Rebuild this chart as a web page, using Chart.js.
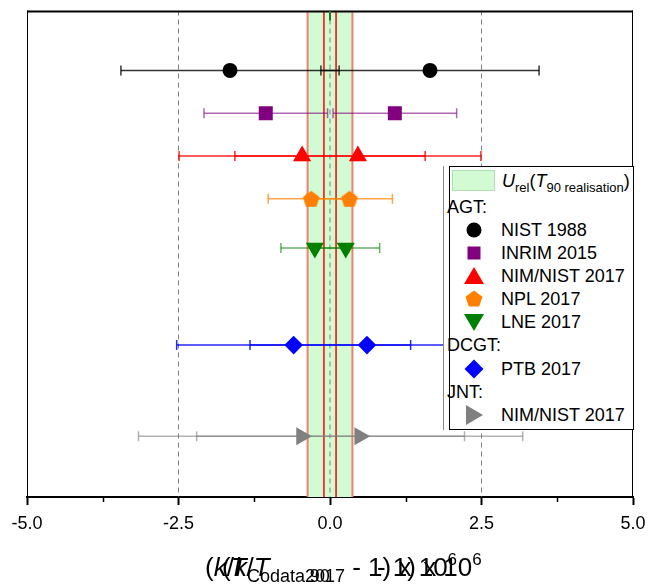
<!DOCTYPE html>
<html>
<head>
<meta charset="utf-8">
<script src="https://cdn.jsdelivr.net/npm/chart.js@4.4.1/dist/chart.umd.min.js"></script>
<style>
body { margin: 0; background: #fff; font-family: "Liberation Sans", Arial, sans-serif; }
#wrap { position: relative; width: 649px; height: 584px; }
#legend { position: absolute; left: 443px; top: 166px; width: 190px; height: 264px; border-left: 1px solid #888; background: #fff; }
#legbox { position: absolute; left: 5px; top: 0; right: 0; bottom: 0; border: 1px solid #000; }
.row { position: absolute; left: 0; height: 23px; line-height: 23px; font-size: 18px; white-space: nowrap; color: #000; }
.row .txt { position: absolute; left: 57px; }
.row svg { position: absolute; left: 20px; top: 1px; }
.hdr { left: 3px; }
.title { position: absolute; top: 546px; font-size: 26px; line-height: 28px; white-space: nowrap; color: #000; }
.title sub { font-size: 18px; vertical-align: -6px; }
.title sup { font-size: 17px; vertical-align: 11px; }
</style>
</head>
<body>
<div id="wrap">
  <canvas id="chart" width="649" height="584"></canvas>
  <div id="legend">
    <div id="legbox"></div>
    <div class="row" style="top:4px;width:190px">
      <svg width="44" height="22" style="left:8px;top:0"><rect x="0.5" y="0.5" width="42" height="20" fill="#d3fbd3" stroke="#b3dcb3"/></svg>
      <span class="txt" style="left:58px"><i>U</i><sub style="font-size:13px">rel</sub>(<i>T</i><sub style="font-size:13px">90 realisation</sub>)</span>
    </div>
    <div class="row hdr" style="top:30px">AGT:</div>
    <div class="row" style="top:53px"><svg width="20" height="20"><circle cx="10" cy="10" r="7.5" fill="#000"/></svg><span class="txt">NIST 1988</span></div>
    <div class="row" style="top:76px"><svg width="20" height="20"><rect x="3.5" y="3.5" width="13" height="13" fill="#800080"/></svg><span class="txt">INRIM 2015</span></div>
    <div class="row" style="top:99px"><svg width="20" height="20"><polygon points="10,1 20,18 0,18" fill="#ff0000"/></svg><span class="txt">NIM/NIST 2017</span></div>
    <div class="row" style="top:122px"><svg width="20" height="20"><polygon points="10,1.5 18.5,7.7 15.2,17.6 4.8,17.6 1.5,7.7" fill="#ff8000"/></svg><span class="txt">NPL 2017</span></div>
    <div class="row" style="top:145px"><svg width="20" height="20"><polygon points="0,2 20,2 10,19" fill="#008000"/></svg><span class="txt">LNE 2017</span></div>
    <div class="row hdr" style="top:168px">DCGT:</div>
    <div class="row" style="top:192px"><svg width="20" height="20"><polygon points="10,0.5 19.5,10 10,19.5 0.5,10" fill="#0000ff"/></svg><span class="txt">PTB 2017</span></div>
    <div class="row hdr" style="top:215px">JNT:</div>
    <div class="row" style="top:238px"><svg width="20" height="20"><polygon points="2,0 19,10 2,20" fill="#808080"/></svg><span class="txt">NIM/NIST 2017</span></div>
  </div>
  <div class="title" style="left:205px">(<i>k</i>/<i>k</i><sub>Codata2017</sub> - 1) x 10<sup>6</sup></div>
  <div class="title" style="left:222px">(<i>T</i>/<i>T</i><sub style="display:inline-block;width:100px;text-align:center">90</sub> - 1) x 10<sup>6</sup></div>
</div>
<script>
// values, units of 1e-6
var rowNames = ['NIST 1988', 'INRIM 2015', 'NIM/NIST 2017', 'NPL 2017', 'LNE 2017', 'PTB 2017', 'NIM/NIST 2017'];
var rowPos = [1.40, 2.40, 3.40, 4.40, 5.55, 7.82, 9.95];
var leftVal = [-1.65, -1.06, -0.46, -0.31, -0.25, -0.60, -0.47];
var rightVal = [1.65, 1.07, 0.46, 0.32, 0.26, 0.61, 0.49];
var errVal = [1.80, 1.02, 2.03, 0.71, 0.56, 1.93, 2.69];
var refLines = [-2.5, 0, 2.5];
var bandEdges = [-0.37, 0.37];
var innerLines = [-0.1, 0.1];
var minorTicks = [-3.75, -1.25, 1.25, 3.75];
var yMax = 11.37;

var markerColors = ['#000000', '#800080', '#ff0000', '#ff8000', '#008000', '#0000ff', '#808080'];
var barColors = ['rgba(0,0,0,0.8)', 'rgba(128,0,128,0.6)', 'rgba(255,0,0,0.85)', 'rgba(255,128,0,0.7)',
                 'rgba(0,128,0,0.6)', 'rgba(0,0,255,0.85)', 'rgba(128,128,128,0.6)'];

function pentagon(color, r) {
    var c = document.createElement('canvas');
    var s = Math.ceil(r * 2 + 2);
    c.width = s; c.height = s;
    var g = c.getContext('2d');
    g.beginPath();
    for (var i = 0; i < 5; i++) {
        var a = -Math.PI / 2 + i * 2 * Math.PI / 5;
        g.lineTo(s / 2 + r * Math.cos(a), s / 2 + r * Math.sin(a) + r * 0.1);
    }
    g.closePath();
    g.fillStyle = color;
    g.fill();
    return c;
}

var markerStyles = ['circle', 'rect', 'triangle', pentagon('#ff8000', 8.8), 'triangle', 'rectRot', 'triangle'];
var markerRot = [0, 0, 0, 0, 180, 0, 90];
var markerRadius = [7.5, 9.9, 10.5, 9, 10.5, 9.3, 10.5];

var datasets = [];

// markers
rowNames.forEach(function (name, i) {
    datasets.push({
        type: 'scatter',
        label: name,
        data: [{x: leftVal[i], y: rowPos[i]}, {x: rightVal[i], y: rowPos[i]}],
        pointStyle: markerStyles[i],
        rotation: markerRot[i],
        pointRadius: markerRadius[i],
        backgroundColor: markerColors[i],
        borderColor: markerColors[i],
        borderWidth: 0,
        order: 1
    });
});

// error bars, one per point
rowNames.forEach(function (name, i) {
    [leftVal[i], rightVal[i]].forEach(function (v) {
        datasets.push({
            type: 'line',
            data: [{x: v - errVal[i], y: rowPos[i]}, {x: v + errVal[i], y: rowPos[i]}],
            borderColor: barColors[i],
            borderWidth: 1.5,
            pointStyle: 'line',
            rotation: 90,
            pointRadius: 5,
            pointBorderWidth: 1.5,
            pointBorderColor: barColors[i],
            order: 2
        });
    });
});

function vline(x, color, width, dash) {
    return {
        type: 'line',
        data: [{x: x, y: 0}, {x: x, y: yMax}],
        borderColor: color,
        borderWidth: width,
        borderDash: dash,
        pointRadius: 0,
        order: 3
    };
}
refLines.forEach(function (x) {
    datasets.push(vline(x, x === 0 ? '#6f8f6f' : '#808080', 1, [5, 4]));
});
bandEdges.forEach(function (x) { datasets.push(vline(x, '#f08070', 2, [])); });
innerLines.forEach(function (x) { datasets.push(vline(x, '#ff0000', 1.5, [])); });

var bandPlugin = {
    id: 'band',
    beforeDatasetsDraw: function (chart) {
        var ctx = chart.ctx, a = chart.chartArea, xs = chart.scales.x;
        var x0 = xs.getPixelForValue(bandEdges[0]), x1 = xs.getPixelForValue(bandEdges[1]);
        ctx.save();
        ctx.fillStyle = '#d3fbd3';
        ctx.fillRect(x0, a.top, x1 - x0, a.bottom - a.top);
        ctx.restore();
    },
    afterDatasetsDraw: function (chart) {
        var ctx = chart.ctx, a = chart.chartArea, xs = chart.scales.x;
        ctx.save();
        ctx.strokeStyle = '#000';
        ctx.lineWidth = 1;
        ctx.beginPath();
        ctx.moveTo(a.left + 0.5, a.bottom); ctx.lineTo(a.left + 0.5, a.top);
        ctx.moveTo(a.right - 0.5, a.top); ctx.lineTo(a.right - 0.5, a.bottom);
        ctx.stroke();
        ctx.lineWidth = 2;
        ctx.beginPath();
        ctx.moveTo(a.left, a.top + 1); ctx.lineTo(a.right, a.top + 1);
        ctx.stroke();
        // minor ticks
        ctx.lineWidth = 1.5;
        ctx.beginPath();
        minorTicks.forEach(function (v) {
            var px = Math.round(xs.getPixelForValue(v)) + 0.5;
            ctx.moveTo(px, a.bottom); ctx.lineTo(px, a.bottom + 5);
        });
        ctx.stroke();
        // small mark at top of zero line
        var z = xs.getPixelForValue(0);
        ctx.strokeStyle = '#2f6f2f';
        ctx.lineWidth = 2;
        ctx.beginPath();
        ctx.moveTo(z, a.top); ctx.lineTo(z, a.top + 10);
        ctx.stroke();
        ctx.restore();
    }
};

new Chart(document.getElementById('chart').getContext('2d'), {
    data: {datasets: datasets},
    options: {
        responsive: false,
        animation: false,
        events: [],
        layout: {padding: {left: 27, right: 16, top: 8, bottom: 0}},
        plugins: {legend: {display: false}, tooltip: {enabled: false}},
        scales: {
            x: {
                type: 'linear',
                min: -5,
                max: 5,
                afterFit: function (s) {
                    s.height = 87;
                    s.paddingLeft = 0;
                    s.paddingRight = 0;
                },
                ticks: {
                    stepSize: 2.5,
                    padding: 8,
                    color: '#000',
                    font: {family: 'Liberation Sans', size: 18},
                    callback: function (v) { return v.toFixed(1); }
                },
                grid: {drawOnChartArea: false, drawTicks: true, tickLength: 8, tickWidth: 2, tickColor: '#000'},
                border: {display: true, color: '#000', width: 2}
            },
            y: {type: 'linear', min: 0, max: yMax, reverse: true, display: false}
        }
    },
    plugins: [bandPlugin]
});
</script>
</body>
</html>
